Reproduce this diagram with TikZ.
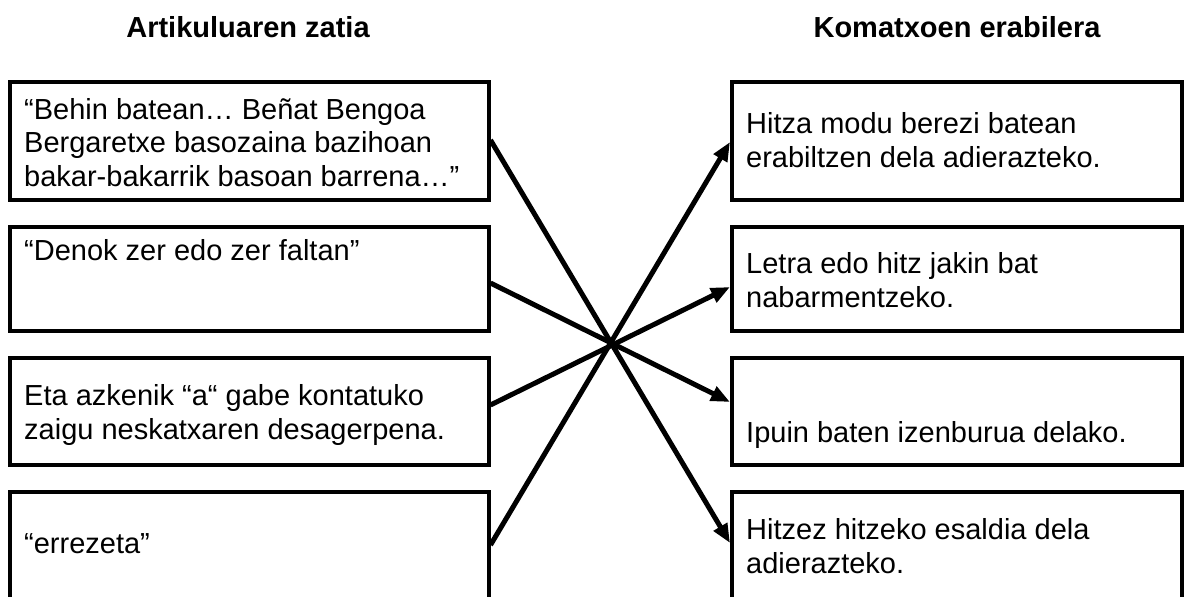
\documentclass[tikz,border=0pt]{standalone}
\usepackage{fontspec}
\setmainfont{Liberation Sans}
\usetikzlibrary{arrows.meta}
\begin{document}
\begin{tikzpicture}[x=1pt,y=-1pt,
  box/.style={draw=black, line width=4pt, rectangle, inner sep=0pt},
  lbox/.style={box, minimum width=479pt},
  rbox/.style={box, minimum width=450pt},
  txt/.style={anchor=base west, inner sep=0pt, align=left, font=\fontsize{29}{34}\selectfont},
  head/.style={anchor=base, inner sep=0pt, font=\fontsize{29}{34}\selectfont\bfseries},
  conn/.style={line width=5pt, draw=black},
  arr/.style={conn, -{Triangle[length=19pt,width=15pt]}}]
\useasboundingbox (0,0) rectangle (1186,597);
\clip (0,0) rectangle (1186,597);
\fill[white] (0,0) rectangle (1186,597);

% headers
\node[head] (h1) at (248,37) {Artikuluaren zatia};
\node[head] (h2) at (957,37) {Komatxoen erabilera};

% left boxes
\node[lbox, minimum height=118pt] (L1) at (249,141) {};
\node[lbox, minimum height=104pt] (L2) at (249,279) {};
\node[lbox, minimum height=107pt] (L3) at (249,411.5) {};
\node[lbox, minimum height=113pt] (L4) at (249,548.5) {};

% right boxes
\node[rbox, minimum height=118pt] (R1) at (957,141) {};
\node[rbox, minimum height=104pt] (R2) at (957,279) {};
\node[rbox, minimum height=107pt] (R3) at (957,411.5) {};
\node[rbox, minimum height=113pt] (R4) at (957,548.5) {};

% texts (anchor = baseline of the last line)
\node[txt] (t1) at (24,186) {“Behin batean… Beñat Bengoa\\[-0.5pt]Bergaretxe basozaina bazihoan\\[-0.5pt]bakar-bakarrik basoan barrena…”};
\node[txt] (t2) at (24,260) {“Denok zer edo zer faltan”};
\node[txt] (t3) at (24,439) {Eta azkenik “a“ gabe kontatuko\\zaigu neskatxaren desagerpena.};
\node[txt] (t4) at (24,553) {“errezeta”};

\node[txt] (u1) at (746,167) {Hitza modu berezi batean\\erabiltzen dela adierazteko.};
\node[txt] (u2) at (746,307) {Letra edo hitz jakin bat\\nabarmentzeko.};
\node[txt] (u3) at (746,442) {Ipuin baten izenburua delako.};
\node[txt] (u4) at (746,573) {Hitzez hitzeko esaldia dela\\adierazteko.};

% connectors
\draw[arr] ([yshift=1pt]L1.east) -- ([yshift=5.5pt]R4.west);
\draw[arr] ([yshift=-4pt]L2.east) -- ([yshift=9.5pt]R3.west);
\draw[arr] ([yshift=6.5pt]L3.east) -- ([yshift=-8pt]R2.west);
\draw[arr] ([yshift=3.5pt]L4.east) -- ([yshift=-1pt]R1.west);
\end{tikzpicture}
\end{document}
